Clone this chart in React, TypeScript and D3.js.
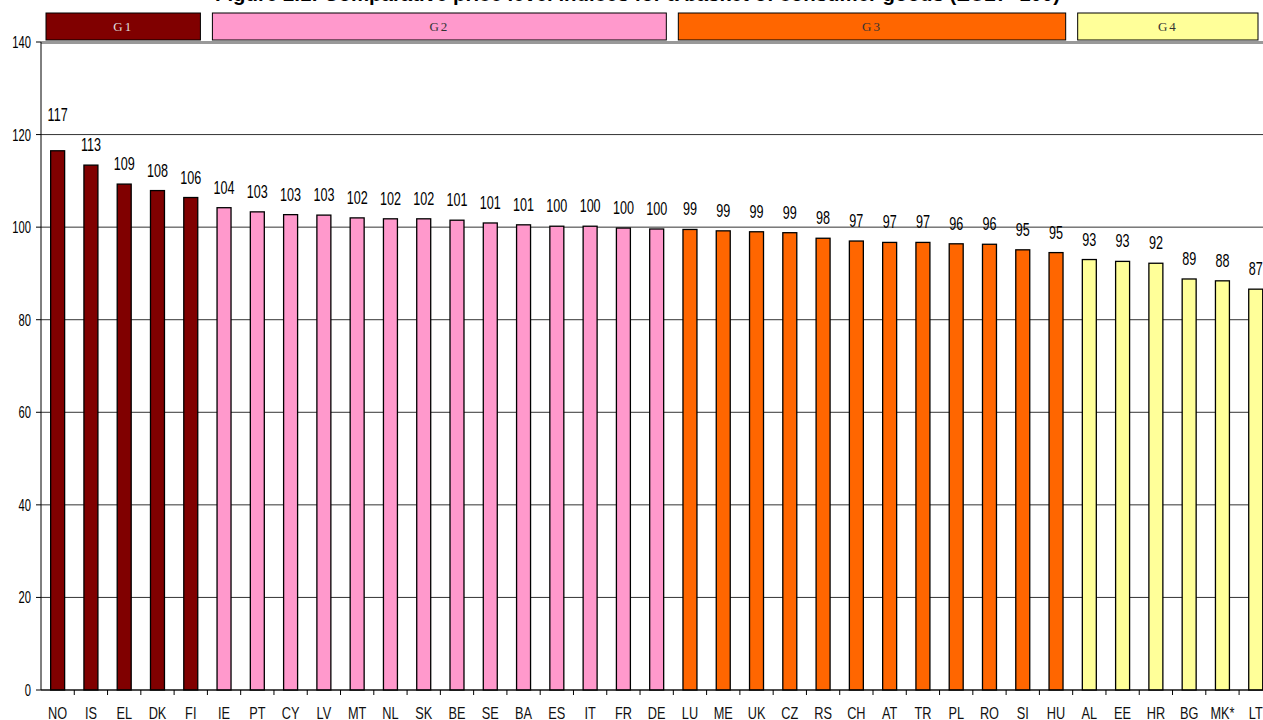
import React from "react";
import * as d3 from "d3";

// country codes, left to right
const categories = [
  "NO", "IS", "EL", "DK", "FI",
  "IE", "PT", "CY", "LV", "MT", "NL", "SK", "BE", "SE", "BA", "ES", "IT", "FR", "DE",
  "LU", "ME", "UK", "CZ", "RS", "CH", "AT", "TR", "PL", "RO", "SI", "HU",
  "AL", "EE", "HR", "BG", "MK*", "LT",
];

// bar heights
const values = [
  116.5, 113.4, 109.3, 107.9, 106.4,
  104.2, 103.3, 102.7, 102.6, 102.0, 101.8, 101.8, 101.5, 100.9, 100.5, 100.2, 100.2, 99.8, 99.6,
  99.5, 99.2, 99.0, 98.8, 97.6, 97.0, 96.7, 96.7, 96.4, 96.3, 95.1, 94.5,
  93.0, 92.6, 92.2, 88.8, 88.4, 86.6,
];

// value labels as printed
const valueLabels = [
  "117", "113", "109", "108", "106",
  "104", "103", "103", "103", "102", "102", "102", "101", "101", "101", "100", "100", "100", "100",
  "99", "99", "99", "99", "98", "97", "97", "97", "96", "96", "95", "95",
  "93", "93", "92", "89", "88", "87",
];

const groupNames = ["G1", "G2", "G3", "G4"];
const groupFirst = ["NO", "IE", "LU", "AL"];
const groupLast = ["FI", "DE", "HU", "LT"];
const groupColors = ["#800000", "#FF99CC", "#FF6600", "#FFFF99"];
const groupTextColors = ["#dddddd", "#333333", "#333333", "#333333"];

const yTicks = [0, 20, 40, 60, 80, 100, 120, 140];

const title = "Figure 2.1: Comparative price level indices for a basket of consumer goods (EU27=100)";

const W = 1263;
const H = 720;
const left = 41;
const top = 42;
const bottom = 690;
const step = 33.28;

const App = () => {
  const xScale = d3
    .scaleBand()
    .domain(categories)
    .range([left, left + step * categories.length])
    .padding(0);

  const yScale = d3.scaleLinear().domain([0, 140]).range([bottom, top]);

  const barW = xScale.bandwidth() * 0.42;
  const center = (c: string) => (xScale(c) || 0) + xScale.bandwidth() / 2;

  const groupOf = (i: number) => {
    let g = 0;
    groupFirst.forEach((f, gi) => {
      if (categories.indexOf(f) <= i) g = gi;
    });
    return g;
  };

  const narrow = "Liberation Sans, Arial, sans-serif";

  return (
    <svg
      width={W}
      height={H}
      style={{ position: "absolute", left: 0, top: 0, background: "#fff" }}
    >
      {/* title, mostly cut off at the top as in the source */}
      <text
        x={215}
        y={1}
        textLength={845}
        lengthAdjust="spacingAndGlyphs"
        fontFamily={narrow}
        fontWeight="bold"
        fontSize={20}
        fill="#000"
      >
        {title}
      </text>

      {/* group headers */}
      {groupNames.map((g, gi) => {
        const x0 = (xScale(groupFirst[gi]) || 0) + 5;
        const x1 = Math.min((xScale(groupLast[gi]) || 0) + xScale.bandwidth() - 7, 1258);
        return (
          <g key={g}>
            <rect
              x={x0}
              y={13}
              width={x1 - x0}
              height={27}
              fill={groupColors[gi]}
              stroke="#000"
              strokeWidth={1}
            />
            <text
              x={(x0 + x1) / 2}
              y={31}
              textAnchor="middle"
              fontFamily="Liberation Serif, Times New Roman, serif"
              fontSize={13}
              letterSpacing={2}
              fill={groupTextColors[gi]}
            >
              {g}
            </text>
          </g>
        );
      })}

      {/* gridlines */}
      {yTicks.map((t) => (
        <line
          key={"g" + t}
          x1={left}
          x2={W}
          y1={yScale(t)}
          y2={yScale(t)}
          stroke="#333"
          strokeWidth={1}
        />
      ))}
      <line x1={left} x2={W} y1={top + 1} y2={top + 1} stroke="#999" strokeWidth={2} />

      {/* bars */}
      {categories.map((c, i) => (
        <rect
          key={"b" + c}
          x={center(c) - barW / 2}
          y={yScale(values[i])}
          width={barW}
          height={bottom - yScale(values[i])}
          fill={groupColors[groupOf(i)]}
          stroke="#000"
          strokeWidth={1.3}
        />
      ))}

      {/* value labels */}
      {categories.map((c, i) => (
        <text
          key={"v" + c}
          transform={`translate(${center(c)},${yScale(values[i]) - (i === 0 ? 30 : 14)}) scale(0.7,1)`}
          textAnchor="middle"
          fontFamily={narrow}
          fontSize={18}
          fill="#000"
        >
          {valueLabels[i]}
        </text>
      ))}

      {/* y axis */}
      <line x1={left} x2={left} y1={top} y2={bottom} stroke="#000" strokeWidth={1} />
      {yTicks.map((t) => (
        <g key={"y" + t}>
          <line x1={left - 5} x2={left} y1={yScale(t)} y2={yScale(t)} stroke="#000" />
          <text
            transform={`translate(${left - 10},${yScale(t) + 6}) scale(0.68,1)`}
            textAnchor="end"
            fontFamily={narrow}
            fontSize={16.5}
            fill="#000"
          >
            {t}
          </text>
        </g>
      ))}

      {/* x axis */}
      <line x1={left} x2={W} y1={bottom} y2={bottom} stroke="#000" strokeWidth={1} />
      {categories.map((c) => (
        <g key={"x" + c}>
          <line
            x1={(xScale(c) || 0) + xScale.bandwidth()}
            x2={(xScale(c) || 0) + xScale.bandwidth()}
            y1={bottom}
            y2={bottom + 5}
            stroke="#000"
          />
          <text
            transform={`translate(${center(c)},${719}) scale(0.75,1)`}
            textAnchor="middle"
            fontFamily={narrow}
            fontSize={17}
            fill="#111"
          >
            {c}
          </text>
        </g>
      ))}
    </svg>
  );
};

export default App;
